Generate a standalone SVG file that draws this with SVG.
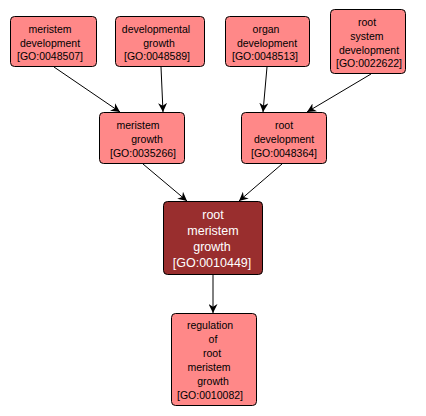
<svg xmlns="http://www.w3.org/2000/svg" width="426" height="416" viewBox="0 0 426 416">
<style>
.n rect{fill:#ff8888;stroke:#000;stroke-width:1}
.n text{font-family:"Liberation Sans",Arial,sans-serif;font-size:10.5px;fill:#000;text-anchor:middle}
.d rect{fill:#992e2e;stroke:#000;stroke-width:1}
.d text{font-family:"Liberation Sans",Arial,sans-serif;font-size:12.5px;fill:#fff;text-anchor:middle}
.e line{stroke:#000;stroke-width:1;marker-end:url(#a)}
</style>
<defs>
<marker id="a" viewBox="0 0 10 10" refX="10" refY="5" markerWidth="9" markerHeight="9" markerUnits="userSpaceOnUse" orient="auto">
<path d="M0,0 L10,5 L0,10 L3,5 Z" fill="#000"/>
</marker>
</defs>
<rect width="426" height="416" fill="#fff"/>
<g id="edges" class="e">
<line x1="54" y1="67" x2="120" y2="112"/>
<line x1="161" y1="67" x2="163" y2="112"/>
<line x1="267" y1="67" x2="263" y2="112"/>
<line x1="371" y1="74" x2="307" y2="112"/>
<line x1="143" y1="164" x2="187" y2="201"/>
<line x1="282" y1="164" x2="239" y2="201"/>
<line x1="213" y1="275" x2="213" y2="313"/>
</g>
<g id="GO0048507" class="n">
<rect x="10.5" y="16.5" width="86" height="50" rx="4"/>
<text x="50" y="33">meristem</text><text x="50" y="47">development</text><text x="50" y="60">[GO:0048507]</text>
</g>
<g id="GO0048589" class="n">
<rect x="115.5" y="16.5" width="89" height="50" rx="4"/>
<text x="156" y="33">developmental</text><text x="159" y="47">growth</text><text x="157" y="60">[GO:0048589]</text>
</g>
<g id="GO0048513" class="n">
<rect x="225.5" y="16.5" width="84" height="50" rx="4"/>
<text x="266" y="33">organ</text><text x="267" y="47">development</text><text x="265" y="60">[GO:0048513]</text>
</g>
<g id="GO0022622" class="n">
<rect x="330.5" y="9.5" width="75" height="64" rx="4"/>
<text x="367" y="26">root</text><text x="367" y="40">system</text><text x="369" y="54">development</text><text x="369" y="67">[GO:0022622]</text>
</g>
<g id="GO0035266" class="n">
<rect x="99.5" y="112.5" width="85" height="51" rx="4"/>
<text x="138" y="129">meristem</text><text x="147" y="143">growth</text><text x="143" y="157">[GO:0035266]</text>
</g>
<g id="GO0048364" class="n">
<rect x="241.5" y="112.5" width="85" height="51" rx="4"/>
<text x="284" y="129">root</text><text x="284" y="143">development</text><text x="284" y="157">[GO:0048364]</text>
</g>
<g id="GO0010449" class="d">
<rect x="163.5" y="201.5" width="99" height="73" rx="4"/>
<text x="213" y="219">root</text><text x="213" y="235">meristem</text><text x="212" y="251">growth</text><text x="212" y="267">[GO:0010449]</text>
</g>
<g id="GO0010082" class="n">
<rect x="171.5" y="313.5" width="85" height="92" rx="4"/>
<text x="210" y="329">regulation</text><text x="213" y="343">of</text><text x="212" y="357">root</text><text x="209" y="371">meristem</text><text x="213" y="385">growth</text><text x="210" y="399">[GO:0010082]</text>
</g>
</svg>
